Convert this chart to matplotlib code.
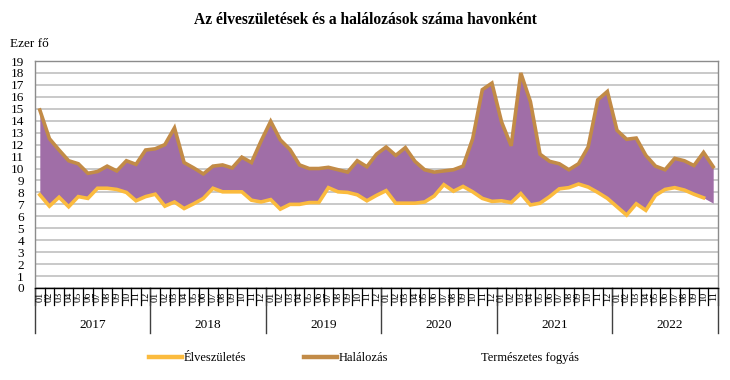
import matplotlib
matplotlib.use("Agg")
import matplotlib.pyplot as plt
from matplotlib.lines import Line2D
from matplotlib.patches import Patch
import matplotlib.transforms as mtransforms

plt.rcParams['font.family'] = ['Liberation Serif', 'DejaVu Serif']

years = ["2017", "2018", "2019", "2020", "2021", "2022"]
months_per_year = [12, 12, 12, 12, 12, 11]

deaths_2017 = [14.9, 12.5, 11.55, 10.65, 10.4, 9.6, 9.75, 10.2, 9.8, 10.65, 10.35, 11.55]
deaths_2018 = [11.65, 12.0, 13.4, 10.5, 10.05, 9.55, 10.2, 10.3, 10.05, 10.95, 10.5, 12.3]
deaths_2019 = [13.95, 12.4, 11.6, 10.3, 10.0, 10.0, 10.1, 9.9, 9.7, 10.65, 10.15, 11.2]
deaths_2020 = [11.8, 11.1, 11.75, 10.6, 9.9, 9.7, 9.8, 9.9, 10.2, 12.5, 16.6, 17.15]
deaths_2021 = [13.9, 11.9, 18.0, 15.6, 11.2, 10.6, 10.4, 9.9, 10.4, 11.8, 15.75, 16.45]
deaths_2022 = [13.2, 12.45, 12.55, 11.1, 10.2, 9.9, 10.85, 10.65, 10.25, 11.35, 10.15]

births_2017 = [7.8, 6.85, 7.6, 6.8, 7.65, 7.5, 8.35, 8.35, 8.25, 8.0, 7.3, 7.65]
births_2018 = [7.85, 6.85, 7.2, 6.65, 7.05, 7.5, 8.35, 8.05, 8.05, 8.05, 7.35, 7.2]
births_2019 = [7.4, 6.6, 7.0, 7.0, 7.15, 7.15, 8.4, 8.05, 8.0, 7.8, 7.3, 7.75]
births_2020 = [8.15, 7.1, 7.1, 7.1, 7.2, 7.7, 8.65, 8.1, 8.5, 8.05, 7.5, 7.25]
births_2021 = [7.3, 7.15, 7.9, 6.95, 7.1, 7.65, 8.3, 8.4, 8.7, 8.45, 8.0, 7.5]
births_2022 = [6.8, 6.1, 7.05, 6.5, 7.75, 8.25, 8.4, 8.2, 7.85, 7.55, 7.1]

deaths = deaths_2017 + deaths_2018 + deaths_2019 + deaths_2020 + deaths_2021 + deaths_2022
births = births_2017 + births_2018 + births_2019 + births_2020 + births_2021 + births_2022

month_labels = []
for n in months_per_year:
    month_labels += [f"{m:02d}" for m in range(1, n + 1)]

C_BIRTH = "#FBBB3E"
C_DEATH = "#C28B47"
C_FILL = "#A06EA7"
C_GRID = "#C0C0C0"

fig = plt.figure(figsize=(7.3, 3.8), dpi=100)
ax = fig.add_axes([35/730, 1 - 288/380, 683/730, 227/380])

x = list(range(len(deaths)))
ax.fill_between(x, births, deaths, color=C_FILL, linewidth=0, zorder=2)
ax.plot(x, deaths, color=C_DEATH, linewidth=2.6, zorder=3, solid_joinstyle='miter')
ax.plot(x[:-1], births[:-1], color=C_BIRTH, linewidth=2.6, zorder=4, solid_joinstyle='miter')

ax.set_xlim(-0.5, len(x) - 0.5)
ax.set_ylim(0, 19)
ax.set_yticks(range(0, 20))
ax.yaxis.grid(True, color=C_GRID, linewidth=1.2, zorder=0)
ax.set_axisbelow(True)
ax.tick_params(axis='y', length=0, labelsize=9.5, pad=8)

ax.set_xticks([])
for s in ['left', 'top', 'right']:
    ax.spines[s].set_color('#8C8C8C')
    ax.spines[s].set_linewidth(1.0)
ax.spines['bottom'].set_color('black')
ax.spines['bottom'].set_linewidth(1.0)

trans = mtransforms.blended_transform_factory(ax.transData, ax.transAxes)
row1 = -17/227
row2 = -45/227
# month separators and labels
for i in range(len(x) + 1):
    ax.plot([i - 0.5, i - 0.5], [0, row1], transform=trans, color='black',
            linewidth=0.9, clip_on=False)
for i, lab in enumerate(month_labels):
    ax.text(i, row1 / 2, lab, transform=trans, rotation=90, ha='center', va='center',
            fontsize=7.5, clip_on=False)
# year separators and labels
start = 0
bounds = [-0.5]
for n in months_per_year:
    start += n
    bounds.append(start - 0.5)
for b in bounds:
    ax.plot([b, b], [0, row2], transform=trans, color='#404040', linewidth=1.0, clip_on=False)
start = 0
for yr, n in zip(years, months_per_year):
    ax.text(start + (12 - 1) / 2, -37/227, yr, transform=trans, ha='center', va='center',
            fontsize=9.5, clip_on=False)
    start += n

fig.text(0.5, 1 - 20/380, "Az élveszületések és a halálozások száma havonként",
         ha='center', va='center', fontsize=11.2, fontweight='bold')
fig.text(10/730, 1 - 44/380, "Ezer fő", ha='left', va='center', fontsize=9.5)

handles = [Line2D([], [], color=C_BIRTH, linewidth=3.2),
           Line2D([], [], color=C_DEATH, linewidth=3.2),
           Patch(facecolor='none', edgecolor='none')]
labels = ["Élveszületés", "Halálozás", "Természetes fogyás"]
fig.legend(handles, labels, loc='center', bbox_to_anchor=(364/730, 1 - 358/380), ncol=3,
           frameon=False, fontsize=9, handlelength=2.6, handletextpad=0.2,
           columnspacing=4.6)

fig.savefig("out.png", dpi=100)
